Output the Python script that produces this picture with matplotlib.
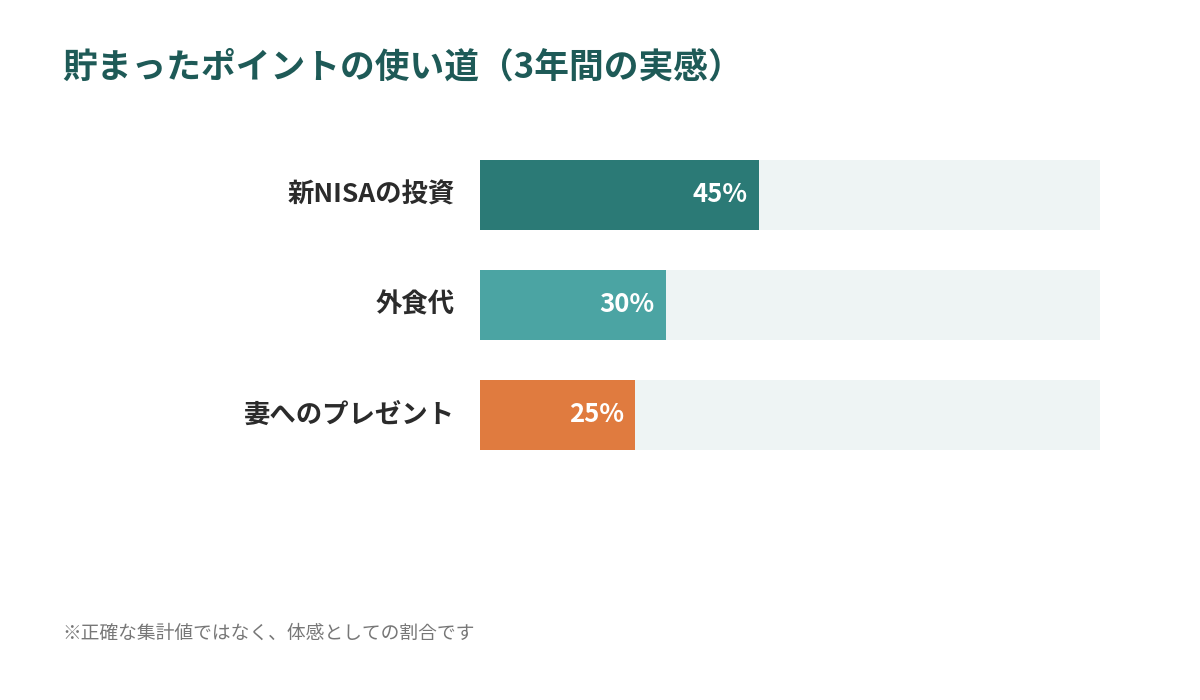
import matplotlib
matplotlib.use("Agg")
import matplotlib.pyplot as plt

plt.rcParams['font.family'] = ['Noto Sans CJK JP', 'DejaVu Sans']

# data
categories = ['新NISAの投資', '外食代', '妻へのプレゼント']
values = [45, 30, 25]
colors = ['#2b7a76', '#4ba4a3', '#e07b3f']
title = '貯まったポイントの使い道（3年間の実感）'
note = '※正確な集計値ではなく、体感としての割合です'

fig = plt.figure(figsize=(12, 7), dpi=100)
fig.patch.set_facecolor('white')

# axes spans the bar area: x 480..1100 px, y 160..450 px
ax = fig.add_axes([480 / 1200, 1 - 450 / 700, 620 / 1200, 290 / 700])
ax.set_facecolor('white')

pos = list(range(len(categories)))
h = 70 / 110
ax.barh(pos, [100] * len(values), height=h, color='#eef4f4', zorder=1)
ax.barh(pos, values, height=h, color=colors, zorder=2)
ax.set_xlim(0, 100)
ax.set_ylim(len(categories) - 1 + h / 2, -h / 2)

for i, (cat, v) in enumerate(zip(categories, values)):
    ax.text(v - 1.8, i, f'{v}%', ha='right', va='center',
            color='white', fontsize=18.5, fontweight='bold', zorder=3)
    ax.text(-4, i, cat, ha='right', va='center',
            color='#2b2b2b', fontsize=19, fontweight='bold')

for s in ax.spines.values():
    s.set_visible(False)
ax.set_xticks([])
ax.set_yticks([])

fig.text(62 / 1200, 1 - 67 / 700, title, ha='left', va='center',
         color='#1e5a57', fontsize=25, fontweight='bold')
fig.text(62 / 1200, 1 - 633 / 700, note, ha='left', va='center',
         color='#777777', fontsize=13.5)

fig.savefig('out.png', dpi=100, facecolor='white')
